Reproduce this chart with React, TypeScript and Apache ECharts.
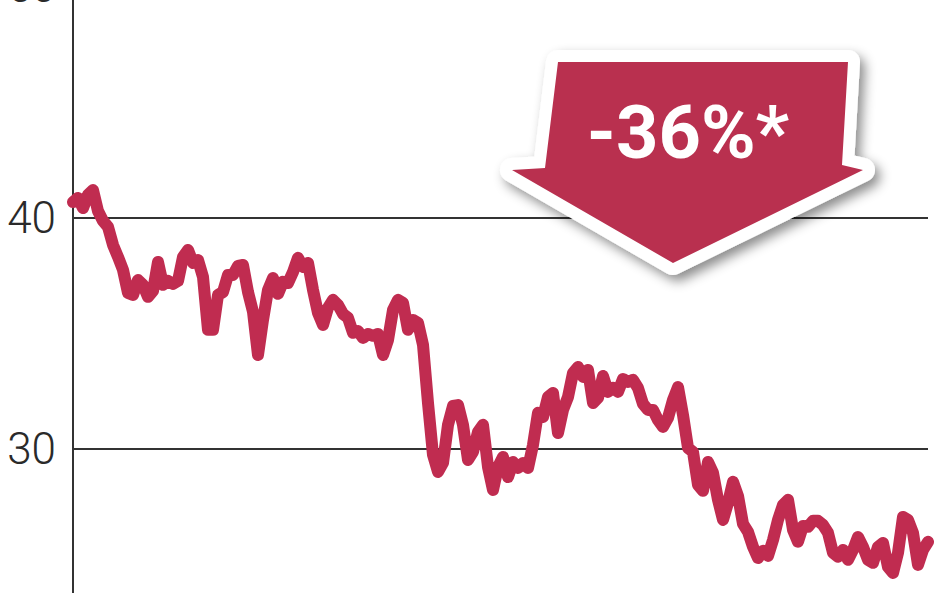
import React, { useEffect, useRef } from "react";
import * as echarts from "echarts";

// Price series (uniform spacing in time)
const prices: number[] = [
  40.69, 40.87, 40.43, 41.0, 41.21, 40.3, 39.87, 39.61, 38.83, 38.31,
  37.75, 36.75, 36.66, 37.31, 37.1, 36.58, 36.84, 38.09, 37.1, 37.27,
  37.14, 37.27, 38.31, 38.61, 38.05, 38.18, 37.44, 35.15, 35.15, 36.66,
  36.79, 37.53, 37.53, 37.92, 37.96, 36.79, 35.93, 34.06, 35.58, 36.88,
  37.4, 36.71, 37.23, 37.18, 37.66, 38.27, 37.88, 38.05, 36.88, 35.88,
  35.36, 36.1, 36.45, 36.23, 35.84, 35.67, 35.02, 35.1, 34.8, 34.97,
  34.89, 34.97, 34.06, 34.71, 36.01, 36.45, 36.32, 35.15, 35.58, 35.45,
  34.5, 31.98, 29.73, 28.99, 29.38, 31.03, 31.85, 31.89, 31.03, 29.51,
  29.86, 30.72, 31.03, 29.21, 28.21, 29.21, 29.64, 28.77, 29.42, 29.16,
  29.38, 29.16, 30.16, 31.55, 31.37, 32.24, 32.41, 30.68, 31.68, 32.24,
  33.28, 33.54, 33.11, 33.41, 31.98, 32.2, 33.15, 32.46, 32.63, 32.46,
  33.02, 32.89, 32.98, 32.63, 31.94, 31.68, 31.68, 31.24, 30.94, 31.33,
  32.11, 32.67, 31.46, 30.03, 29.86, 28.43, 28.17, 29.42, 28.95, 27.78,
  26.91, 27.65, 28.56, 27.95, 26.74, 26.39, 25.74, 25.26, 25.57, 25.35,
  26.04, 26.91, 27.56, 27.78, 26.48, 25.96, 26.65, 26.61, 26.87, 26.87,
  26.69, 26.35, 25.48, 25.31, 25.61, 25.18, 25.61, 26.17, 25.74, 25.18,
  25.05, 25.74, 25.91, 24.87, 24.61, 25.48, 27.04, 26.91, 26.35, 24.96,
  25.61, 25.96,
];

// Y axis ticks
const yMin = 20;
const yMax = 50;
const yInterval = 10;

// Annotation
const changeLabel = "-36%*";

const LINE_COLOR = "#c02c50";
const ARROW_COLOR = "#b9304f";
const AXIS_COLOR = "#333333";

// The chart canvas is taller than the page: the top (50) and bottom (20)
// of the value axis fall outside the visible 948x593 area, as in the reference.
const OFFSET_TOP = 113;
const CANVAS_H = 800;

export default function App() {
  const ref = useRef<HTMLDivElement>(null);

  useEffect(() => {
    if (!ref.current) return;
    const chart = echarts.init(ref.current, undefined, { renderer: "svg" });
    const data = prices.map((v, i) => [i, v]);
    const arrowPts = [
      [558, 62],
      [848, 62],
      [842, 165],
      [863, 170],
      [673, 263],
      [512, 170],
      [545, 168],
    ].map(([x, y]) => [x, y + OFFSET_TOP]);
    chart.setOption({
      animation: false,
      backgroundColor: "#ffffff",
      grid: {
        left: 73,
        right: 20,
        top: 100.3,
        bottom: 7.7,
        containLabel: false,
        outerBoundsMode: "none",
      },
      xAxis: {
        type: "value",
        min: 0,
        max: prices.length - 1,
        show: false,
      },
      yAxis: {
        type: "value",
        min: yMin,
        max: yMax,
        interval: yInterval,
        axisLine: { show: true, lineStyle: { color: AXIS_COLOR, width: 2 } },
        axisTick: { show: false },
        axisLabel: {
          color: "#2a2a2a",
          fontSize: 44,
          fontWeight: 300,
          fontFamily: "Roboto, sans-serif",
          margin: 17,
          showMinLabel: false,
        },
        splitLine: { show: true, lineStyle: { color: AXIS_COLOR, width: 2 } },
      },
      series: [
        {
          type: "line",
          data,
          showSymbol: false,
          symbol: "none",
          lineStyle: { color: LINE_COLOR, width: 12, cap: "round", join: "round" },
          z: 3,
        },
      ],
      graphic: [
        {
          type: "polygon",
          z: 100,
          shape: { points: arrowPts },
          style: {
            fill: "#ffffff",
            stroke: "#ffffff",
            lineWidth: 24,
            lineJoin: "round",
            shadowBlur: 12,
            shadowColor: "rgba(0,0,0,0.45)",
            shadowOffsetX: 5,
            shadowOffsetY: 6,
          },
        },
        {
          type: "polygon",
          z: 101,
          shape: { points: arrowPts },
          style: { fill: ARROW_COLOR },
        },
        {
          type: "text",
          z: 102,
          x: 688,
          y: 132 + OFFSET_TOP,
          style: {
            text: changeLabel,
            fill: "#ffffff",
            font: "bold 74px Roboto, 'DejaVu Sans', sans-serif",
            align: "center",
            verticalAlign: "middle",
          },
        },
      ],
    });
    return () => chart.dispose();
  }, []);

  return (
    <div
      ref={ref}
      style={{ position: "fixed", left: 0, top: -OFFSET_TOP, width: 948, height: CANVAS_H }}
    />
  );
}
